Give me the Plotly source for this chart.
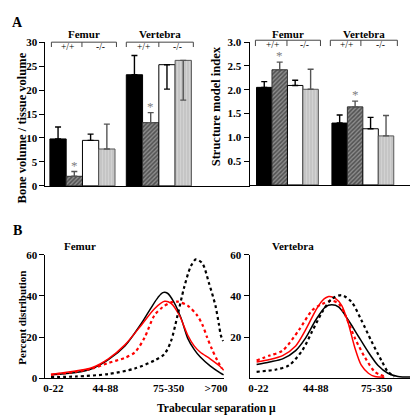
import plotly.graph_objects as go

W, H = 418, 415

# ---------------- DATA ----------------
groups = ["Femur", "Vertebra"]
series_names = ["+/+ black", "+/+ hatched", "-/- white", "-/- gray"]

bv_tv = [[9.8, 23.2], [2.0, 13.2], [9.5, 25.3], [7.7, 26.2]]
bv_tv_err_up = [[2.5, 4.0], [1.0, 2.1], [1.3, 0.0], [5.2, 0.0]]
bv_tv_err_dn = [[0.0, 0.0], [0.0, 0.0], [0.0, 5.1], [0.0, 8.3]]

smi = [[2.05, 1.30], [2.42, 1.64], [2.09, 1.18], [2.01, 1.03]]
smi_err_up = [[0.12, 0.17], [0.16, 0.12], [0.11, 0.24], [0.42, 0.43]]

bv_ticks = [0, 5, 10, 15, 20, 25, 30]
smi_ticks = [0.5, 1.0, 1.5, 2.0, 2.5, 3.0]

# Panel B: trabecular separation distributions (x in bin-position units)
fem_ticklabels = ["0-22", "44-88", "75-350", ">700"]
fem_tickvals = [0.0, 0.88, 1.95, 2.75]
vert_ticklabels = ["0-22", "44-88", "75-350"]
vert_tickvals = [0.0, 0.97, 2.0]

fem_black_x = [-0.04, 0.38, 0.66, 0.93, 1.21, 1.49, 1.66, 1.77, 1.85, 1.93, 2.04, 2.16, 2.27, 2.38, 2.48, 2.65, 2.82, 2.88]
fem_black_y = [1.6, 2.7, 4.7, 9.0, 15.7, 26.7, 34.6, 39.3, 41.6, 41.3, 36.9, 29.1, 19.5, 14.0, 10.4, 6.0, 2.6, 1.6]
fem_red_x = [-0.04, 0.38, 0.66, 0.93, 1.21, 1.49, 1.71, 1.88, 1.99, 2.13, 2.27, 2.38, 2.48, 2.65, 2.82, 2.88]
fem_red_y = [1.9, 3.5, 5.2, 9.4, 16.2, 25.9, 33.8, 37.4, 36.4, 30.6, 21.0, 15.7, 12.7, 9.4, 5.7, 3.9]
fem_reddot_x = [-0.04, 0.38, 0.66, 0.93, 1.21, 1.38, 1.54, 1.71, 1.85, 1.99, 2.1, 2.27, 2.43, 2.52, 2.6, 2.68, 2.77, 2.85]
fem_reddot_y = [1.6, 3.1, 4.7, 7.4, 9.9, 12.6, 19.6, 30.6, 34.6, 36.9, 37.2, 35.3, 30.6, 26.0, 19.8, 14.2, 8.7, 4.7]
fem_blackdot_x = [-0.04, 0.38, 0.93, 1.38, 1.71, 1.88, 1.99, 2.1, 2.21, 2.32, 2.41, 2.52, 2.63, 2.74, 2.8, 2.83, 2.87]
fem_blackdot_y = [0.5, 0.8, 2.0, 4.7, 8.6, 11.8, 18.1, 30.6, 44.0, 54.2, 57.8, 55.8, 46.3, 35.3, 26.0, 21.0, 18.0]

vert_red_x = [-0.03, 0.19, 0.41, 0.63, 0.8, 0.97, 1.08, 1.19, 1.3, 1.41, 1.52, 1.63, 1.74, 1.86, 1.97, 2.13]
vert_red_y = [7.9, 9.1, 11.0, 15.7, 23.6, 33.0, 37.7, 39.7, 38.8, 35.3, 26.7, 14.9, 6.3, 2.4, 0.8, 0.5]
vert_black_x = [-0.03, 0.19, 0.41, 0.63, 0.8, 0.97, 1.13, 1.24, 1.36, 1.52, 1.69, 1.86, 2.02, 2.19, 2.36, 2.58]
vert_black_y = [6.6, 7.9, 9.4, 13.4, 19.6, 28.3, 34.6, 35.7, 34.6, 28.3, 20.4, 12.6, 6.3, 2.4, 0.8, 0.5]
vert_reddot_x = [-0.03, 0.19, 0.41, 0.69, 0.91, 1.08, 1.24, 1.36, 1.47, 1.63, 1.8, 1.97, 2.13]
vert_reddot_y = [8.6, 11.0, 13.4, 23.6, 33.0, 36.1, 37.7, 36.1, 30.6, 19.6, 10.2, 3.1, 0.8]
vert_blackdot_x = [-0.03, 0.3, 0.52, 0.74, 0.91, 1.08, 1.24, 1.41, 1.58, 1.74, 1.91, 2.08, 2.19, 2.3]
vert_blackdot_y = [3.1, 4.2, 6.3, 13.4, 22.8, 32.2, 38.5, 40.4, 36.9, 28.3, 18.1, 8.6, 3.1, 0.8]

# ---------------- LAYOUT HELPERS ----------------
def px(x):
    return x / W

def py(y):
    return 1 - y / H

SERIF = "Liberation Serif"
BOLD = dict(family=SERIF, size=11, color="black", weight="bold")

fills = [
    dict(color="black", line=dict(color="black", width=1)),
    dict(color="#6a6a6a", line=dict(color="#333", width=1),
         pattern=dict(shape="/", fgcolor="#151515", bgcolor="#8c8c8c", size=3, solidity=0.5)),
    dict(color="white", line=dict(color="black", width=1)),
    dict(color="#cfcfcf", line=dict(color="#555", width=1),
         pattern=dict(shape="|", fgcolor="#9a9a9a", bgcolor="#d2d2d2", size=3, solidity=0.3)),
]
err_colors = ["black", "#555", "black", "#555"]

fig = go.Figure()

wA1, wA2 = 0.213, 0.205
for k in range(4):
    fig.add_trace(go.Bar(
        x=groups, y=bv_tv[k], width=wA1, offset=(k - 2) * wA1, marker=fills[k],
        error_y=dict(type="data", symmetric=False, array=bv_tv_err_up[k],
                     arrayminus=bv_tv_err_dn[k], color=err_colors[k], thickness=1.4, width=3),
        xaxis="x", yaxis="y", showlegend=False))
    fig.add_trace(go.Bar(
        x=groups, y=smi[k], width=wA2, offset=(k - 2) * wA2, marker=fills[k],
        error_y=dict(type="data", symmetric=False, array=smi_err_up[k],
                     arrayminus=[0, 0], color=err_colors[k], thickness=1.4, width=3),
        xaxis="x2", yaxis="y2", showlegend=False))

line_specs = [
    ("x3", "y3", fem_black_x, fem_black_y, "black", "solid", 1.5),
    ("x3", "y3", fem_red_x, fem_red_y, "red", "solid", 1.5),
    ("x3", "y3", fem_reddot_x, fem_reddot_y, "red", "dot", 2.2),
    ("x3", "y3", fem_blackdot_x, fem_blackdot_y, "black", "dot", 2.2),
    ("x4", "y4", vert_black_x, vert_black_y, "black", "solid", 1.5),
    ("x4", "y4", vert_red_x, vert_red_y, "red", "solid", 1.5),
    ("x4", "y4", vert_reddot_x, vert_reddot_y, "red", "dot", 2.2),
    ("x4", "y4", vert_blackdot_x, vert_blackdot_y, "black", "dot", 2.2),
]
for xa, ya, xs, ys, c, d, w in line_specs:
    fig.add_trace(go.Scatter(x=xs, y=ys, mode="lines", xaxis=xa, yaxis=ya,
                             line=dict(color=c, dash=d, width=w, shape="spline", smoothing=0.8),
                             showlegend=False, hoverinfo="skip"))

axis_common = dict(showline=True, linecolor="black", linewidth=1, showgrid=False,
                   zeroline=False, tickfont=BOLD, ticks="outside", ticklen=5, tickwidth=1,
                   tickcolor="black")

fig.update_layout(
    width=W, height=H, margin=dict(l=0, r=0, t=0, b=0),
    paper_bgcolor="white", plot_bgcolor="white", barmode="overlay",
    font=dict(family=SERIF, color="black"),
    xaxis=dict(domain=[px(36), px(243)], range=[-0.484, 2.187], anchor="y",
               showline=True, linecolor="black", showticklabels=False, ticks="", showgrid=False,
               type="category"),
    yaxis=dict(domain=[py(177), py(29)], range=[0, 30], tickvals=bv_ticks, anchor="x", **axis_common),
    xaxis2=dict(domain=[px(243), px(410)], range=[-0.503, 1.68], anchor="y2",
                showline=True, linecolor="black", showticklabels=False, ticks="", showgrid=False,
                type="category"),
    yaxis2=dict(domain=[py(176), py(29)], range=[0, 3], tickvals=smi_ticks,
                ticktext=[f"{v:.1f}" for v in smi_ticks], anchor="x2", **axis_common),
    xaxis3=dict(domain=[px(36), px(217)], range=[-0.133, 2.883], anchor="y3",
                showline=True, linecolor="black", ticks="", showgrid=False, zeroline=False,
                tickvals=fem_tickvals, ticktext=fem_ticklabels, tickfont=BOLD),
    yaxis3=dict(domain=[py(375), py(248)], range=[0, 60], tickvals=[0, 20, 40, 60],
                anchor="x3", **axis_common),
    xaxis4=dict(domain=[px(243), px(408)], range=[-0.15, 2.6], anchor="y4",
                showline=True, linecolor="black", ticks="", showgrid=False, zeroline=False,
                tickvals=vert_tickvals, ticktext=vert_ticklabels, tickfont=BOLD),
    yaxis4=dict(domain=[py(375), py(248)], range=[0, 60], tickvals=[20, 40, 60],
                anchor="x4", **axis_common),
)

ann = []
def text(x, y, s, size=11, bold=True, angle=0, color="black"):
    ann.append(dict(x=px(x), y=py(y), xref="paper", yref="paper", text=s, showarrow=False,
                    textangle=angle, xanchor="center", yanchor="middle",
                    font=dict(family=SERIF, size=size, color=color,
                              weight="bold" if bold else "normal")))

text(8, 9, "A", 14)
text(8, 223, "B", 14)
text(12, 117, "Bone volume / tissue volume", 12.5, angle=-90)
text(209, 95, "Structure model index", 12.5, angle=-90)
text(12, 313, "Percent distribution", 11, angle=-90)
text(210, 406, "Trabecular separation \u03bc", 11.5)
text(71, 239, "Femur", 11)
text(287, 239, "Vertebra", 11)

shapes = []
def bracket(x0, xm, x1, ytop, ybot, title, ytitle):
    for seg in [(x0, ytop, x1, ytop), (x0, ytop, x0, ybot), (xm, ytop, xm, ybot), (x1, ytop, x1, ybot)]:
        shapes.append(dict(type="line", xref="paper", yref="paper",
                           x0=px(seg[0]), y0=py(seg[1]), x1=px(seg[2]), y1=py(seg[3]),
                           line=dict(color="#444", width=1)))
    text((x0 + x1) / 2, ytitle, title, 11)
    text((x0 + xm) / 2 + 1, ytop + 5, "+/+", 9.5, bold=False)
    text((xm + x1) / 2 + 1, ytop + 5, "-/-", 9.5, bold=False)

bracket(42, 73, 108, 29, 34, "Femur", 21)
bracket(118, 151, 186, 29, 34, "Vertebra", 21)
bracket(249, 281, 315, 27, 33, "Femur", 21)
bracket(325, 356, 393, 27, 33, "Vertebra", 21)

# asterisks above the hatched bars
for g in range(2):
    ann.append(dict(x=groups[g], y=bv_tv[1][g] + bv_tv_err_up[1][g], xref="x", yref="y",
                    xshift=(-0.5 * wA1) * 77.5, text="*", showarrow=False, yanchor="bottom",
                    yshift=-3, font=dict(family=SERIF, size=13, color="#808080")))
    ann.append(dict(x=groups[g], y=smi[1][g] + smi_err_up[1][g], xref="x2", yref="y2",
                    xshift=(-0.5 * wA2) * 76.5, text="*", showarrow=False, yanchor="bottom",
                    yshift=-3, font=dict(family=SERIF, size=13, color="#808080")))

fig.update_layout(annotations=ann, shapes=shapes)
fig.write_html("out.html")
